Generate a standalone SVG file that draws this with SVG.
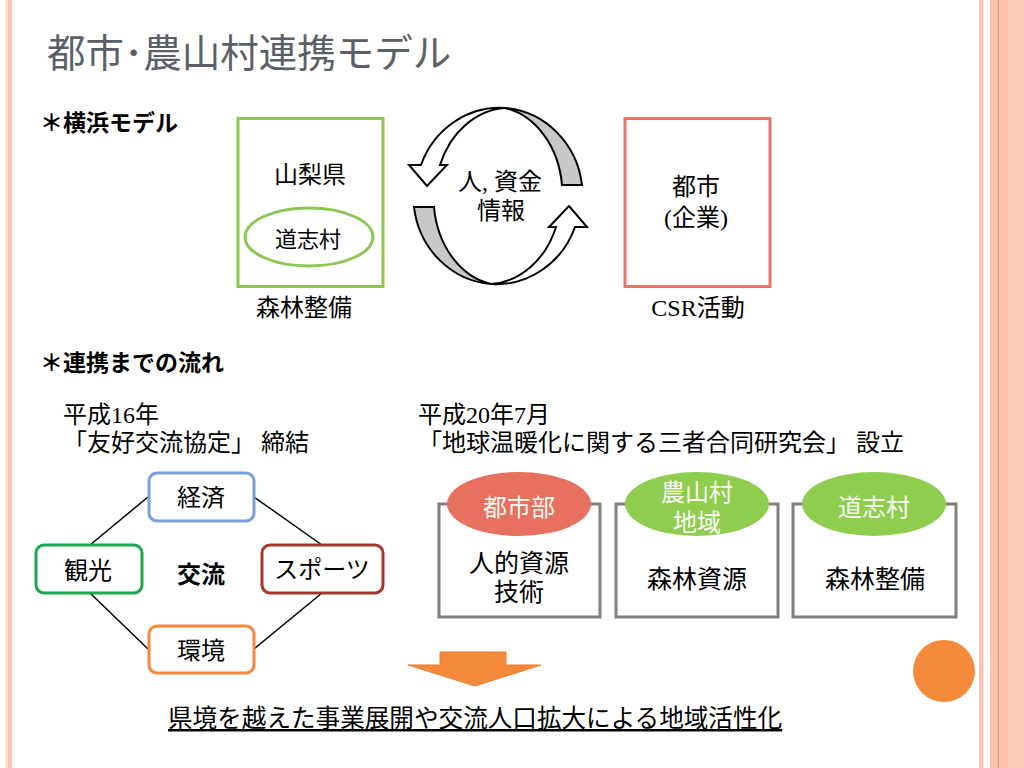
<svg xmlns="http://www.w3.org/2000/svg" width="1024" height="768" viewBox="0 0 1024 768">
<style>
.m{font-family:"Liberation Serif","Noto Sans CJK JP",serif;fill:#000}
.g{font-family:"Noto Sans CJK JP","Liberation Sans",sans-serif;fill:#000}
.c{text-anchor:middle}
.s24{font-size:24px}
.arw{stroke:#000;stroke-width:2;stroke-linejoin:miter}
.gray{fill:#c8c8c8}
.wht{fill:#fff}
.rb{fill:#fff;stroke-width:3}
.box{fill:#fff;stroke:#7f7f7f;stroke-width:3}
.ln{stroke:#000;stroke-width:1.5}
.ell{font-size:24px;fill:#fbfbf5}
</style>
<rect x="0" y="0" width="1024" height="768" fill="#fff"/>
<g id="border">
<rect x="5" y="0" width="2.5" height="768" fill="#fce4d9"/>
<rect x="7.5" y="0" width="4.5" height="768" fill="#fac4b4"/>
<rect x="979" y="0" width="4.5" height="768" fill="#f9c6b7"/>
<rect x="990" y="0" width="18" height="768" fill="#fbc2ad"/>
<rect x="1008" y="0" width="16" height="768" fill="#fdcab6"/>
<rect x="997.8" y="0" width="1.2" height="768" fill="#e39b7e"/>
</g>
<text class="g" x="47" y="67" font-size="38.5" style="fill:#5b6068">都市･農山村連携モデル</text>
<text class="g" x="40" y="131" font-size="23" font-weight="bold">＊横浜モデル</text>

<g id="yamanashi">
<rect x="238" y="118.5" width="145" height="168" fill="none" stroke="#8cc653" stroke-width="3"/>
<text class="m c s24" x="310" y="183">山梨県</text>
<ellipse cx="309" cy="237" rx="64" ry="29" fill="none" stroke="#8cc653" stroke-width="3"/>
<text class="m c" x="308" y="247" font-size="22">道志村</text>
<text class="m c s24" x="304" y="316">森林整備</text>
</g>

<g id="toshi">
<rect x="625" y="118.5" width="145" height="168" fill="none" stroke="#e8756a" stroke-width="3"/>
<text class="m c s24" x="696" y="195">都市</text>
<text class="m c s24" x="696" y="226">(企業)</text>
<text class="m c s24" x="698" y="316">CSR活動</text>
</g>

<g id="cycle">
<g id="cycle-top" class="arw">
<path class="gray" d="M582,185 A84,88 0 0 0 505,108 A70,88 0 0 1 562,185 Z"/>
<path class="wht" d="M409,165 L421,165 A84,88 0 0 1 505,108 A74,88 0 0 0 440,165 L447,165 L427,186 Z"/>
</g>
<g id="cycle-bottom" class="arw" transform="rotate(180 498 196)">
<path class="gray" d="M582,185 A84,88 0 0 0 505,108 A70,88 0 0 1 562,185 Z"/>
<path class="wht" d="M409,165 L421,165 A84,88 0 0 1 505,108 A74,88 0 0 0 440,165 L447,165 L427,186 Z"/>
</g>
<text class="m c s24" x="500" y="190">人, 資金</text>
<text class="m c s24" x="501" y="219">情報</text>
</g>

<text class="g" x="40" y="371" font-size="23" font-weight="bold">＊連携までの流れ</text>
<text class="m s24" x="63" y="423">平成16年</text>
<text class="m s24" x="63" y="451">「友好交流協定」 締結</text>
<text class="m s24" x="418" y="423">平成20年7月</text>
<text class="m s24" x="418" y="451">「地球温暖化に関する三者合同研究会」 設立</text>

<g id="connectors">
<line class="ln" x1="148" y1="497" x2="90" y2="545"/>
<line class="ln" x1="254" y1="497" x2="322" y2="545"/>
<line class="ln" x1="90" y1="593" x2="148" y2="649"/>
<line class="ln" x1="322" y1="593" x2="254" y2="649"/>
</g>
<g id="keizai">
<rect class="rb" x="149" y="473" width="105" height="48" rx="8" stroke="#7b9fd8"/>
<text class="m c s24" x="201" y="506">経済</text>
</g>
<g id="kanko">
<rect class="rb" x="36" y="545" width="106" height="48" rx="8" stroke="#1fa653"/>
<text class="m c s24" x="88" y="579">観光</text>
</g>
<g id="sports">
<rect class="rb" x="262" y="545" width="121" height="48" rx="8" stroke="#a3372b"/>
<text class="m c s24" x="322" y="578">スポーツ</text>
</g>
<g id="kankyo">
<rect class="rb" x="149" y="626" width="105" height="47" rx="8" stroke="#f5883d"/>
<text class="m c s24" x="201" y="659">環境</text>
</g>
<text class="g c s24" x="201" y="583" font-weight="bold">交流</text>

<g id="toshibu">
<rect class="box" x="439" y="504" width="161" height="113"/>
<ellipse cx="519" cy="504" rx="72" ry="32" fill="#e8705f"/>
<text class="m c ell" x="519" y="516">都市部</text>
<text class="m c" x="519" y="572" font-size="25">人的資源</text>
<text class="m c" x="519" y="601" font-size="25">技術</text>
</g>
<g id="nosanson">
<rect class="box" x="616" y="504" width="162" height="113"/>
<ellipse cx="697" cy="504" rx="72" ry="32" fill="#8fcd4f"/>
<text class="m c ell" x="697" y="501">農山村</text>
<text class="m c ell" x="697" y="531">地域</text>
<text class="m c" x="697" y="588" font-size="25">森林資源</text>
</g>
<g id="doshi">
<rect class="box" x="793" y="504" width="163" height="113"/>
<ellipse cx="874" cy="504" rx="72" ry="32" fill="#8fcd4f"/>
<text class="m c ell" x="874" y="516">道志村</text>
<text class="m c" x="875" y="588" font-size="25">森林整備</text>
</g>

<polygon id="down-arrow" points="440,652 506,652 506,665 541,665 475,686 408,665 440,665" fill="#f68a3b" stroke="#e57c30" stroke-width="1"/>
<circle id="dot" cx="944" cy="671" r="31" fill="#f68a3b"/>
<text class="m" x="168" y="727" font-size="24.6" text-decoration="underline">県境を越えた事業展開や交流人口拡大による地域活性化</text>
</svg>
